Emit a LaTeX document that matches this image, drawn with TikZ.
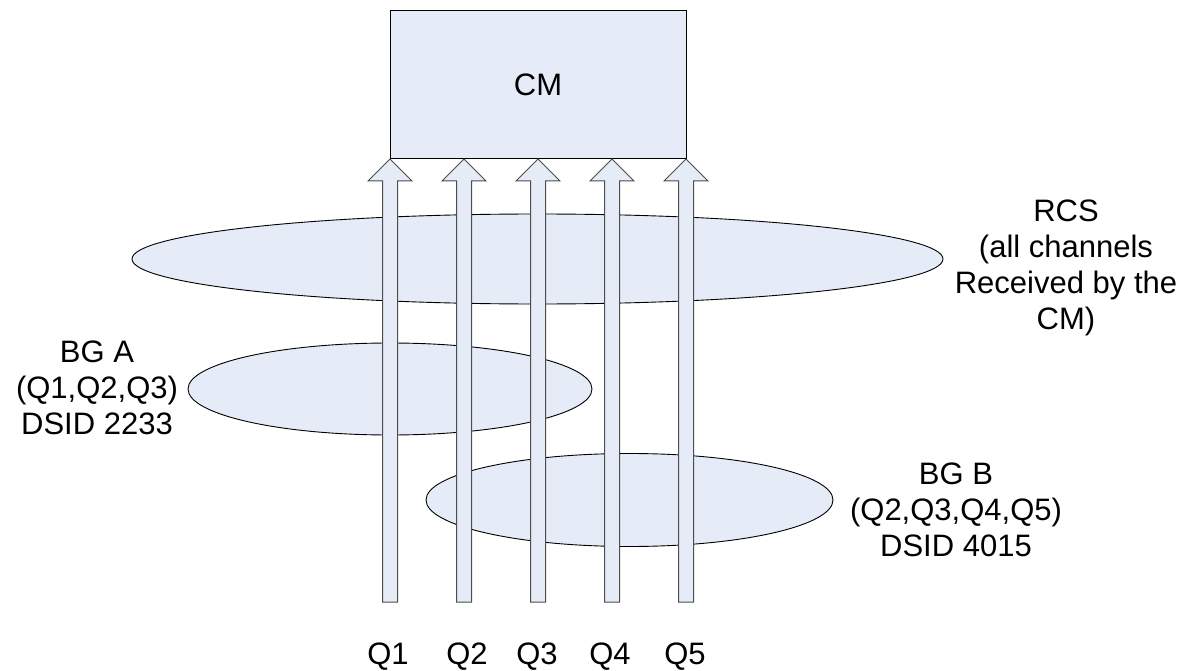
\documentclass[tikz,border=0pt]{standalone}
\usepackage{fontspec}
\setmainfont{Liberation Sans}
\usetikzlibrary{shapes.geometric,calc}
\definecolor{fillblue}{RGB}{230,236,247}
\begin{document}
\begin{tikzpicture}[x=1pt,y=-1pt,
  lbl/.style={font=\fontsize{31}{36}\selectfont, align=center, inner sep=0pt},
  oval/.style={ellipse, draw=black, line width=0.9pt, fill=fillblue, inner sep=0pt},
  blockarrow/.style={draw=black!70, line width=1pt, fill=fillblue, line join=miter},
  box/.style={draw=black, line width=1pt, fill=fillblue, inner sep=0pt}]
\useasboundingbox (0,0) rectangle (1194,671);
% ellipses
\node[oval, minimum width=811, minimum height=90] (rcs) at (537.5,259) {};
\node[oval, minimum width=404, minimum height=92] (bga) at (390,389) {};
\node[oval, minimum width=407, minimum height=93] (bgb) at (629.5,500) {};
% CM box
\node[box, minimum width=296, minimum height=148] (cm) at (538,85) {};
% block arrows
\foreach \i/\x in {1/390,2/464,3/538,4/612,5/686} {
  \coordinate (b\i) at (\x,602);
  \coordinate (t\i) at (\x,159);
  \draw[blockarrow] ($(b\i)+(-7.5,0)$) -- ($(t\i)+(-7.5,22)$) -- ($(t\i)+(-22,22)$)
    -- (t\i) -- ($(t\i)+(22,22)$) -- ($(t\i)+(7.5,22)$) -- ($(b\i)+(7.5,0)$) -- cycle;
}
% labels
\node[lbl] (cmlbl) at (cm.center) {CM};
\node[lbl] (rcslbl) at (1066,268) {RCS\\(all channels\\Received by the\\CM)};
\node[lbl] (bgalbl) at (97,388) {BG A\\(Q1,Q2,Q3)\\DSID 2233};
\node[lbl] (bgblbl) at (956,510) {BG B\\(Q2,Q3,Q4,Q5)\\DSID 4015};
\node[lbl] (q1) at (388,657) {Q1};
\node[lbl] (q2) at (467,657) {Q2};
\node[lbl] (q3) at (537,657) {Q3};
\node[lbl] (q4) at (610,657) {Q4};
\node[lbl] (q5) at (685,657) {Q5};
\end{tikzpicture}
\end{document}
